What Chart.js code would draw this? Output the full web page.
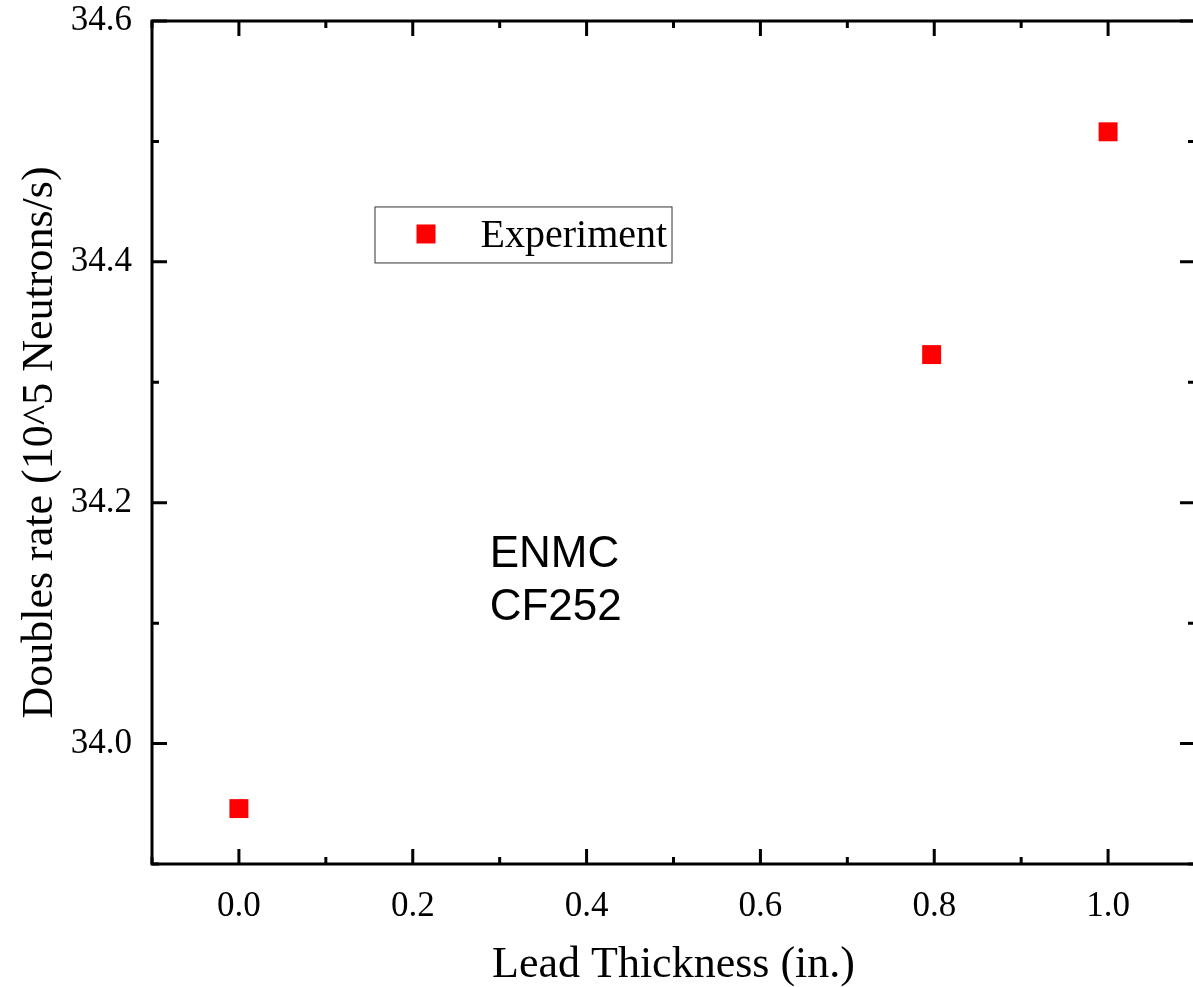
<!DOCTYPE html>
<html>
<head>
<meta charset="utf-8">
<title>Doubles rate vs lead thickness</title>
<script src="https://cdn.jsdelivr.net/npm/chart.js@4"></script>
<style>
  html, body { margin: 0; padding: 0; background: #fff; overflow: hidden; }
  #wrap { width: 1200px; height: 987px; }
</style>
</head>
<body>
<div id="wrap"><canvas id="leadChart" width="1200" height="987"></canvas></div>
<script>
// Doubles rate against lead shielding thickness (ENMC, Cf-252 source)
const thickness = [0.0, 0.797, 1.0];
const doublesRate = [33.946, 34.323, 34.508];
const xTickLabels = [0.0, 0.2, 0.4, 0.6, 0.8, 1.0];
const yTickLabels = [34.0, 34.2, 34.4, 34.6];
const xMinorTicks = [-0.1, 0.1, 0.3, 0.5, 0.7, 0.9, 1.1];
const yMinorTicks = [33.9, 34.1, 34.3, 34.5];
const noteLines = ['ENMC', 'CF252'];

const serif = "'Liberation Serif', 'Times New Roman', serif";
const sans = "'Liberation Sans', Arial, sans-serif";

// box around the plot, ticks pointing inward on all four sides
const framePlugin = {
  id: 'frame',
  afterDraw(chart) {
    const { ctx, chartArea: a, scales: { x, y } } = chart;
    ctx.save();
    ctx.strokeStyle = '#000';
    ctx.lineWidth = 3;
    ctx.lineCap = 'butt';
    ctx.strokeRect(a.left, a.top, a.right - a.left, a.bottom - a.top);
    ctx.beginPath();
    const xTick = (v, len) => {
      const px = x.getPixelForValue(v);
      ctx.moveTo(px, a.bottom); ctx.lineTo(px, a.bottom - len);
      ctx.moveTo(px, a.top); ctx.lineTo(px, a.top + len);
    };
    const yTick = (v, len) => {
      const py = y.getPixelForValue(v);
      ctx.moveTo(a.left, py); ctx.lineTo(a.left + len, py);
      ctx.moveTo(a.right, py); ctx.lineTo(a.right - len, py);
    };
    xTickLabels.forEach(v => xTick(v, 15));
    xMinorTicks.forEach(v => xTick(v, 7));
    yTickLabels.forEach(v => yTick(v, 15));
    yMinorTicks.forEach(v => yTick(v, 7));
    ctx.stroke();
    ctx.restore();
  }
};

// framed legend and sample note, anchored in data coordinates
const annotationPlugin = {
  id: 'notes',
  afterDraw(chart, args, opts) {
    const { ctx, scales: { x, y } } = chart;
    const ds = chart.data.datasets[0];
    ctx.save();

    const bx = x.getPixelForValue(opts.legendAt[0]);
    const by = y.getPixelForValue(opts.legendAt[1]);
    const bw = 297, bh = 56;
    ctx.fillStyle = '#fff';
    ctx.fillRect(bx, by, bw, bh);
    ctx.strokeStyle = '#333';
    ctx.lineWidth = 1;
    ctx.strokeRect(bx + 0.5, by + 0.5, bw, bh);
    ctx.fillStyle = ds.backgroundColor;
    ctx.fillRect(bx + 42, by + 18, 19, 19);
    ctx.fillStyle = '#000';
    ctx.font = '40px ' + serif;
    ctx.textBaseline = 'alphabetic';
    ctx.textAlign = 'left';
    ctx.fillText(ds.label, bx + 106, by + 41);

    ctx.font = '44px ' + sans;
    const nx = x.getPixelForValue(opts.noteAt[0]);
    let ny = y.getPixelForValue(opts.noteAt[1]);
    noteLines.forEach(line => {
      ctx.fillText(line, nx, ny);
      ny += 53;
    });
    ctx.restore();
  }
};

const chart = new Chart(document.getElementById('leadChart'), {
  type: 'scatter',
  data: {
    datasets: [{
      label: 'Experiment',
      data: thickness.map((t, i) => ({ x: t, y: doublesRate[i] })),
      backgroundColor: '#ff0000',
      borderColor: '#ff0000',
      borderWidth: 0,
      pointStyle: 'rect',
      pointRadius: 13.4,
      pointHoverRadius: 13.4
    }]
  },
  options: {
    responsive: false,
    animation: false,
    layout: { autoPadding: false, padding: { top: 21, right: 5, left: 0, bottom: 0 } },
    plugins: {
      legend: { display: false },
      tooltip: { enabled: false },
      notes: { legendAt: [0.156, 34.446], noteAt: [0.2885, 34.147] }
    },
    scales: {
      x: {
        type: 'linear',
        min: -0.1,
        max: 1.1,
        grid: { display: false },
        border: { display: false },
        afterBuildTicks: s => { s.ticks = xTickLabels.map(v => ({ value: v })); },
        afterFit: s => {
          s.height = 123;
          s.paddingLeft = 0;
          s.paddingRight = 0;
        },
        ticks: {
          color: '#000',
          font: { family: serif, size: 35 },
          padding: 14,
          maxRotation: 0,
          callback: v => v.toFixed(1)
        },
        title: {
          display: true,
          text: 'Lead Thickness (in.)',
          color: '#000',
          font: { family: serif, size: 44, lineHeight: 1 },
          padding: { top: 0, bottom: 0 }
        }
      },
      y: {
        type: 'linear',
        min: 33.9,
        max: 34.6,
        grid: { display: false },
        border: { display: false },
        afterBuildTicks: s => { s.ticks = yTickLabels.map(v => ({ value: v })); },
        afterFit: s => {
          s.width = 152;
          s.paddingTop = 0;
          s.paddingBottom = 0;
        },
        ticks: {
          color: '#000',
          font: { family: serif, size: 35 },
          padding: 12,
          callback: v => v.toFixed(1)
        },
        title: {
          display: true,
          text: 'Doubles rate (10^5 Neutrons/s)',
          color: '#000',
          font: { family: serif, size: 44, lineHeight: 1 },
          padding: { top: 18, bottom: 0 }
        }
      }
    }
  },
  plugins: [framePlugin, annotationPlugin]
});
</script>
</body>
</html>
